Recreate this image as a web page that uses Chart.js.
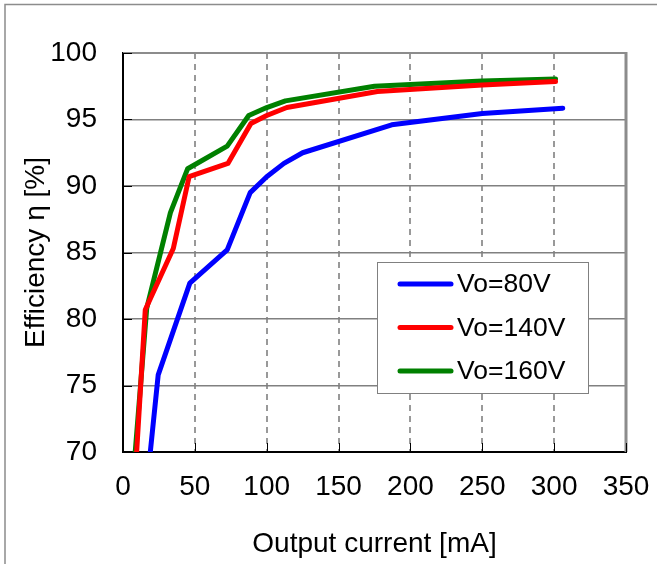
<!DOCTYPE html>
<html>
<head>
<meta charset="utf-8">
<script src="https://cdn.jsdelivr.net/npm/chart.js@4/dist/chart.umd.min.js"></script>
<style>
  html, body { margin: 0; padding: 0; background: #fff; }
  #wrap { width: 657px; height: 564px; position: relative; }
</style>
</head>
<body>
<div id="wrap"><canvas id="effChart" width="657" height="564"></canvas></div>
<script>
// data
const seriesNames = ['Vo=80V', 'Vo=140V', 'Vo=160V'];
const seriesColors = ['#0000ff', '#ff0000', '#008000'];

const current80 = [19, 24.5, 46.5, 72.5, 88.5, 100, 112, 125, 187, 250, 306];
const eff80     = [70, 75.8, 82.7, 85.2, 89.5, 90.7, 91.7, 92.5, 94.6, 95.45, 95.85];

const current140 = [9.5, 15.5, 35, 46, 73, 89, 100, 114, 177, 250, 301];
const eff140     = [70, 80.7, 85.3, 90.7, 91.7, 94.7, 95.3, 95.9, 97.1, 97.6, 97.85];

const current160 = [8.5, 16.5, 33, 45, 72.5, 87.5, 100, 113, 175, 250, 301];
const eff160     = [70, 80.8, 88, 91.3, 93.0, 95.3, 95.9, 96.4, 97.5, 97.9, 98.05];

const xTicks = [0, 50, 100, 150, 200, 250, 300, 350];
const yTicks = [70, 75, 80, 85, 90, 95, 100];

const toPoints = (xs, ys) => xs.map((x, i) => ({ x: x, y: ys[i] }));
const allX = [current80, current140, current160];
const allY = [eff80, eff140, eff160];

const datasets = seriesNames.map((name, i) => ({
    label: name,
    data: toPoints(allX[i], allY[i]),
    borderColor: seriesColors[i],
    backgroundColor: seriesColors[i],
    borderWidth: 5,
    borderCapStyle: 'round',
    borderJoinStyle: 'round',
    pointRadius: 0,
    tension: 0,
    clip: { left: 5, right: 5, top: 5, bottom: 0 }
}));

// outer page frame + plot frame with inside ticks
const framePlugin = {
    id: 'frame',
    beforeDraw(chart) {
        const ctx = chart.ctx;
        ctx.save();
        ctx.strokeStyle = '#8c8c8c';
        ctx.lineWidth = 1.5;
        ctx.beginPath();
        ctx.moveTo(5, 564);
        ctx.lineTo(5, 4.5);
        ctx.lineTo(657, 4.5);
        ctx.stroke();
        ctx.restore();
    },
    beforeDatasetsDraw(chart) {
        const { ctx, chartArea: a, scales } = chart;
        ctx.save();
        ctx.strokeStyle = '#8c8c8c';
        ctx.lineWidth = 2;
        ctx.beginPath();
        ctx.moveTo(a.left, a.top);
        ctx.lineTo(a.right, a.top);
        ctx.stroke();
        ctx.lineWidth = 3;
        ctx.beginPath();
        ctx.moveTo(a.right, a.top - 1);
        ctx.lineTo(a.right, a.bottom);
        ctx.stroke();
        ctx.strokeStyle = '#000';
        ctx.lineWidth = 1;
        yTicks.forEach(v => {
            const py = Math.round(scales.y.getPixelForValue(v)) + 0.5;
            ctx.beginPath();
            ctx.moveTo(a.left, py);
            ctx.lineTo(a.left + 9, py);
            ctx.stroke();
        });
        xTicks.forEach(v => {
            const px = Math.round(scales.x.getPixelForValue(v)) + 0.5;
            ctx.beginPath();
            ctx.moveTo(px, a.bottom);
            ctx.lineTo(px, a.bottom - 9);
            ctx.stroke();
        });
        ctx.restore();
    }
};

// boxed legend inside the plot
const legendBox = {
    id: 'legendBox',
    afterDraw(chart) {
        const ctx = chart.ctx;
        const bx = 377, by = 262, bw = 211, bh = 131;
        ctx.save();
        ctx.fillStyle = '#fff';
        ctx.fillRect(bx, by, bw, bh);
        ctx.strokeStyle = '#808080';
        ctx.lineWidth = 1;
        ctx.strokeRect(bx + 0.5, by + 0.5, bw, bh);
        ctx.font = '26.5px "Liberation Sans", Arial, sans-serif';
        ctx.textBaseline = 'middle';
        ctx.textAlign = 'left';
        chart.data.datasets.forEach((ds, i) => {
            const ry = 284 + i * 43.5;
            ctx.strokeStyle = ds.borderColor;
            ctx.lineWidth = 5;
            ctx.lineCap = 'round';
            ctx.beginPath();
            ctx.moveTo(400, ry);
            ctx.lineTo(451, ry);
            ctx.stroke();
            ctx.fillStyle = '#000';
            ctx.fillText(ds.label, 457, ry + 1);
        });
        ctx.restore();
    }
};

new Chart(document.getElementById('effChart'), {
    type: 'line',
    data: { datasets: datasets },
    options: {
        responsive: false,
        animation: false,
        layout: { padding: { top: 53, right: 31, left: 0, bottom: 0 } },
        plugins: {
            legend: { display: false },
            tooltip: { enabled: false }
        },
        scales: {
            x: {
                type: 'linear',
                min: 0,
                max: 350,
                afterBuildTicks: s => { s.ticks = xTicks.map(v => ({ value: v })); },
                afterFit: s => { s.height = 112; s.paddingLeft = 0; s.paddingRight = 0; },
                grid: { color: '#999', lineWidth: 2, drawTicks: false },
                border: { color: '#000', width: 2, dash: [6, 5] },
                ticks: {
                    color: '#000',
                    padding: 18,
                    maxRotation: 0,
                    font: { family: '"Liberation Sans", Arial, sans-serif', size: 28 }
                },
                title: {
                    display: true,
                    text: 'Output current [mA]',
                    color: '#000',
                    padding: { top: 0, bottom: 3 },
                    font: { family: '"Liberation Sans", Arial, sans-serif', size: 28 }
                }
            },
            y: {
                min: 70,
                max: 100,
                afterBuildTicks: s => { s.ticks = yTicks.map(v => ({ value: v })); },
                afterFit: s => { s.width = 123; s.paddingTop = 0; s.paddingBottom = 0; },
                grid: { color: '#808080', lineWidth: 1.5, drawTicks: false },
                border: { color: '#000', width: 2 },
                ticks: {
                    color: '#000',
                    padding: 26,
                    font: { family: '"Liberation Sans", Arial, sans-serif', size: 28 }
                },
                title: {
                    display: true,
                    text: 'Efficiency η [%]',
                    color: '#000',
                    padding: { top: 19, bottom: 0 },
                    font: { family: '"Liberation Sans", Arial, sans-serif', size: 28 }
                }
            }
        }
    },
    plugins: [framePlugin, legendBox]
});
</script>
</body>
</html>
